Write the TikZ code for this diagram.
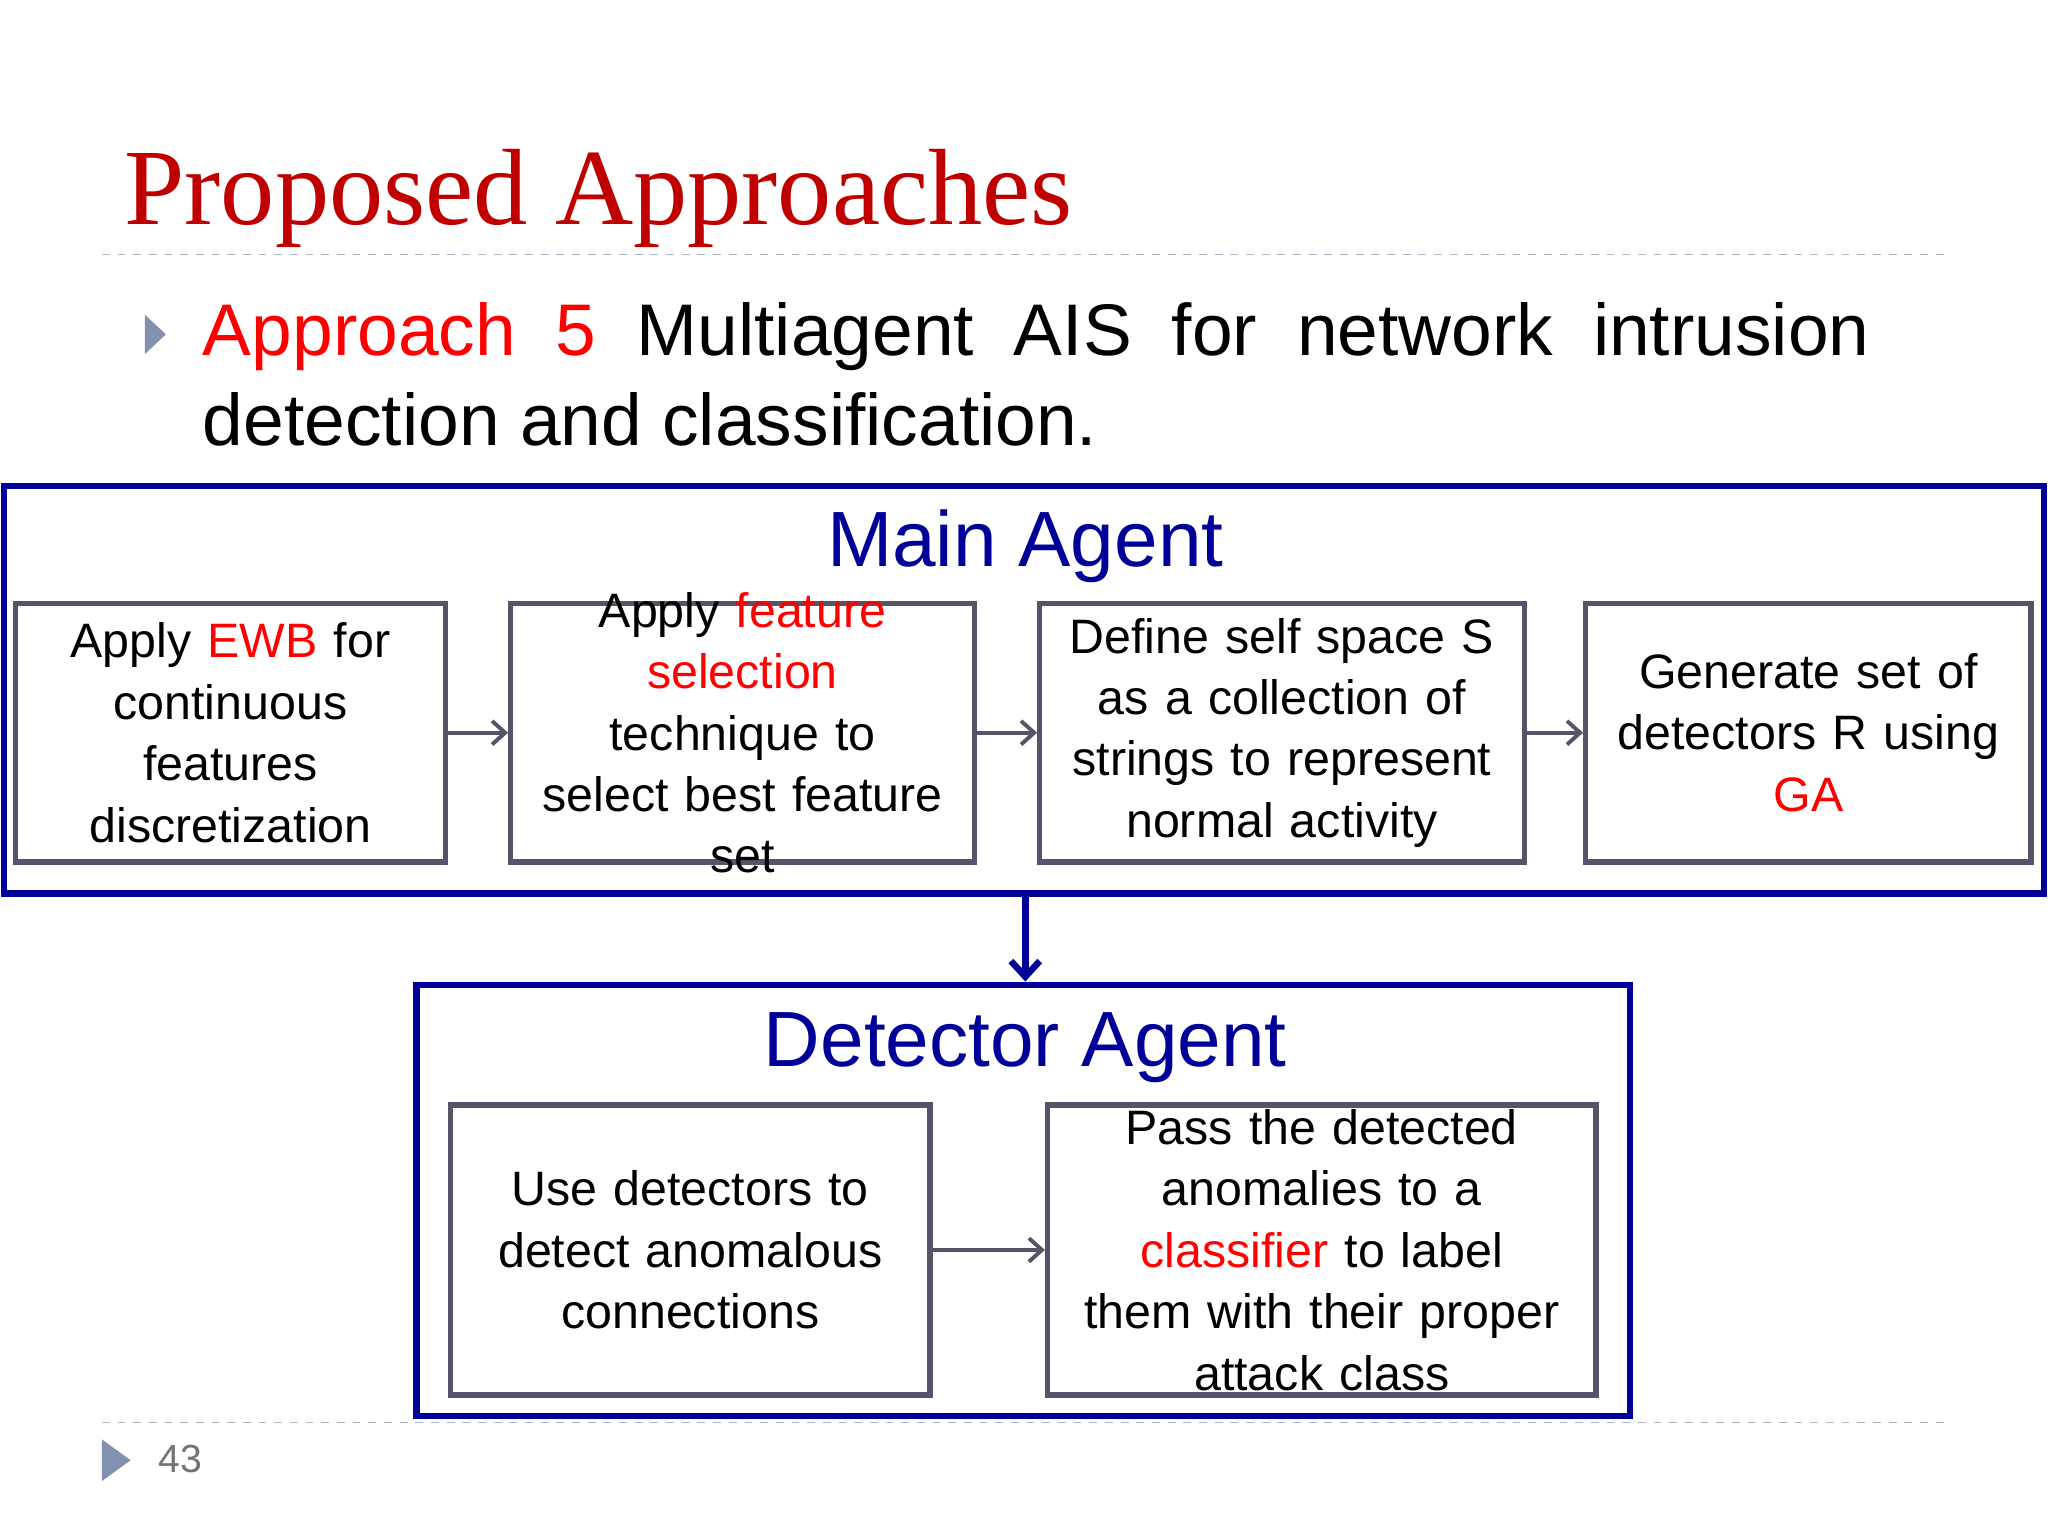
\documentclass[tikz,border=0pt]{standalone}
\usepackage{fontspec}
\setmainfont{Liberation Sans}
\newfontfamily\titlefont{Liberation Serif}
\usetikzlibrary{positioning,arrows.meta}
\definecolor{titlered}{RGB}{192,0,0}
\definecolor{agentblue}{RGB}{0,0,153}
\definecolor{boxgray}{RGB}{85,85,105}
\definecolor{hlred}{RGB}{255,0,0}
\definecolor{bulletgray}{RGB}{130,145,175}
\begin{document}
\begin{tikzpicture}[x=0.5pt,y=-0.5pt,
  agent/.style={draw=agentblue,line width=2.5pt,inner sep=0pt},
  stage/.style={draw=boxgray,line width=2pt,inner sep=0pt},
  stagetext/.style={inner sep=0pt,align=center,text width=200pt,
    font=\fontsize{18.5pt}{23.5pt}\selectfont},
  flow/.style={-{Straight Barb[length=5pt,width=9pt]},draw=boxgray,line width=1.5pt},
  agenttitle/.style={text=agentblue,font=\fontsize{30pt}{36pt}\selectfont}]
\useasboundingbox (0,0) rectangle (1568,1176);

% Title and bullet
\node[anchor=base west,inner sep=0pt,text=titlered,font=\titlefont\fontsize{41.5pt}{46pt}\selectfont] (title) at (95,172) {Proposed Approaches};
\draw[bulletgray!70,dashed,line width=0.6pt] (78,195) -- (1490,195);
\fill[bulletgray] (111,241) -- (127,256) -- (111,271) -- cycle;
\node[anchor=base west,inner sep=0pt,font=\fontsize{28pt}{34.5pt}\selectfont] (bullet) at (155,272)
  {\makebox[638pt][s]{\textcolor{hlred}{Approach 5} Multiagent AIS for network intrusion}};
\node[anchor=base west,inner sep=0pt,font=\fontsize{28pt}{34.5pt}\selectfont] (bullet2) at (155,341)
  {detection and classification.};

% Main agent
\node[agent,minimum width=781pt,minimum height=156pt] (main) at (784,528) {};
\node[agenttitle] (mainlbl) at (785,418) {Main Agent};
\node[stage,minimum width=164.5pt,minimum height=99pt] (ewb) at (176.5,561) {};
\node[stage,minimum width=177.5pt,minimum height=99pt] (feat) at (568.5,561) {};
\node[stage,minimum width=185.5pt,minimum height=99pt] (self) at (981.5,561) {};
\node[stage,minimum width=170.5pt,minimum height=99pt] (gen) at (1384.5,561) {};
\node[stagetext] at (ewb) {Apply \textcolor{hlred}{EWB} for\\continuous\\features\\discretization};
\node[stagetext] at (feat) {Apply \textcolor{hlred}{feature}\\\textcolor{hlred}{selection}\\technique to\\select best feature\\set};
\node[stagetext] at (self) {Define self space S\\as a collection of\\strings to represent\\normal activity};
\node[stagetext] at (gen) {Generate set of\\detectors R using\\\textcolor{hlred}{GA}};
\draw[flow] (ewb) -- (feat);
\draw[flow] (feat) -- (self);
\draw[flow] (self) -- (gen);

% Detector agent
\node[agent,minimum width=464.5pt,minimum height=165pt] (det) at (783.5,919) {};
\node[agenttitle] (detlbl) at (785,802) {Detector Agent};
\node[stage,minimum width=183.5pt,minimum height=111pt] (use) at (528.5,957) {};
\node[stage,minimum width=210pt,minimum height=111pt] (pass) at (1012,957) {};
\node[stagetext] at (use) {Use detectors to\\detect anomalous\\connections};
\node[stagetext] at (pass) {Pass the detected\\anomalies to a\\\textcolor{hlred}{classifier} to label\\them with their proper\\attack class};
\draw[flow] (use) -- (pass);

\draw[-{Straight Barb[length=6pt,width=11pt]},draw=agentblue,line width=2.5pt] (main.south -| detlbl) -- (det.north -| detlbl);

% Footer
\draw[bulletgray!70,dashed,line width=0.6pt] (78,1089) -- (1490,1089);
\fill[bulletgray] (78,1102) -- (100,1118) -- (78,1134) -- cycle;
\node[text=gray!90!black,font=\fontsize{15pt}{18pt}\selectfont] (page) at (138,1117) {43};
\end{tikzpicture}
\end{document}
